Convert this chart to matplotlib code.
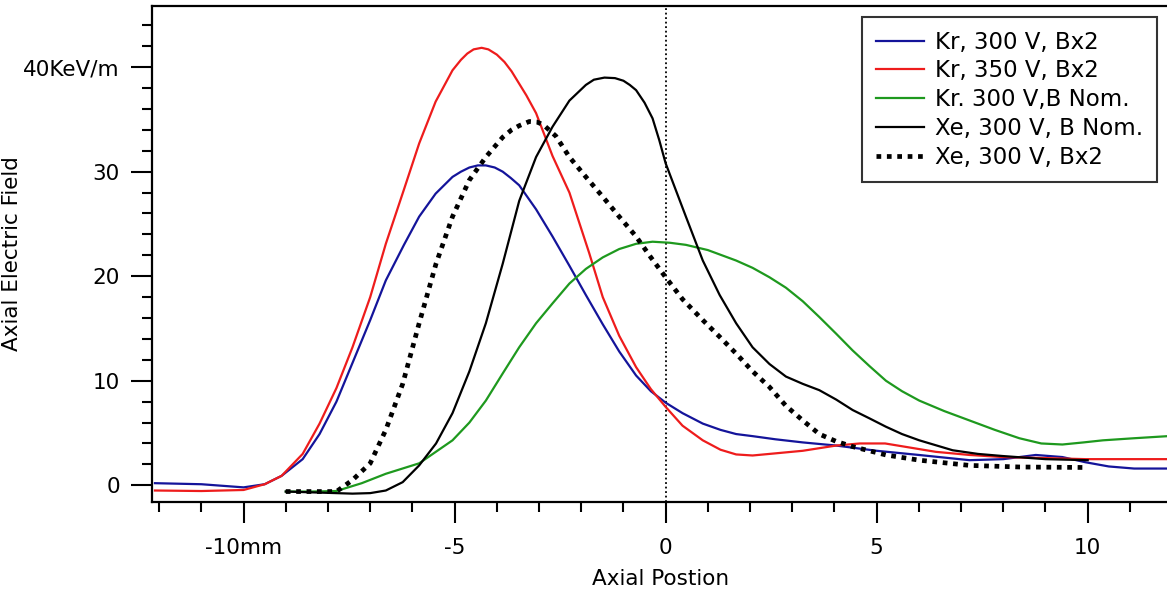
import matplotlib
matplotlib.use("Agg")
import matplotlib.pyplot as plt
from matplotlib.ticker import MultipleLocator, FixedLocator, FuncFormatter

# Kr, 300 V, Bx2
kr300_x = [-12.1, -11, -10, -9.5, -9.1, -8.6, -8.2, -7.8, -7.42, -7.0, -6.63, -6.2, -5.84, -5.45,
           -5.05, -4.85, -4.65, -4.45, -4.26, -4.05, -3.86, -3.67, -3.47, -3.07, -2.68, -2.28,
           -1.89, -1.49, -1.1, -0.7, -0.35, 0, 0.4, 0.88, 1.3, 1.67, 2.06, 2.6, 3.25, 4.04,
           5.0, 6.0, 7.2, 8.0, 8.77, 9.4, 9.95, 10.5, 11.1, 11.9]
kr300_y = [0.2, 0.1, -0.2, 0.1, 0.9, 2.5, 4.9, 8.0, 11.7, 15.8, 19.6, 23.0, 25.7, 27.9,
           29.5, 30.0, 30.4, 30.6, 30.6, 30.4, 30.0, 29.4, 28.7, 26.4, 23.8, 21.0,
           18.2, 15.4, 12.8, 10.5, 9.0, 7.9, 6.9, 5.9, 5.3, 4.9, 4.7, 4.4, 4.1, 3.8,
           3.3, 2.9, 2.4, 2.5, 2.9, 2.7, 2.2, 1.8, 1.6, 1.6]

# Kr, 350 V, Bx2
kr350_x = [-12.1, -11, -10, -9.5, -9.1, -8.6, -8.2, -7.8, -7.42, -7.0, -6.63, -6.2, -5.84, -5.45,
           -5.05, -4.85, -4.7, -4.55, -4.36, -4.2, -4.0, -3.82, -3.65, -3.3, -3.07, -2.68,
           -2.28, -1.81, -1.49, -1.1, -0.7, -0.35, 0, 0.4, 0.88, 1.3, 1.67, 2.06, 2.46, 3.25,
           4.04, 4.6, 5.2, 5.8, 6.4, 7.2, 7.98, 9.0, 9.95, 11.0, 11.9]
kr350_y = [-0.5, -0.55, -0.45, 0.1, 0.9, 3.0, 5.9, 9.3, 13.2, 18.0, 23.1, 28.3, 32.7, 36.7,
           39.7, 40.7, 41.3, 41.7, 41.85, 41.7, 41.2, 40.5, 39.6, 37.3, 35.6, 31.5,
           28.0, 22.2, 18.0, 14.3, 11.3, 9.2, 7.5, 5.7, 4.3, 3.4, 2.95, 2.85, 3.0, 3.3,
           3.8, 4.0, 4.0, 3.6, 3.2, 2.9, 2.7, 2.6, 2.5, 2.5, 2.5]

# Kr. 300 V, B Nom.
krnom_x = [-9, -8.4, -7.8, -7.2, -6.63, -5.84, -5.05, -4.65, -4.26, -3.86, -3.47, -3.07, -2.68,
           -2.28, -1.89, -1.49, -1.1, -0.7, -0.31, 0.1, 0.48, 1.0, 1.67, 2.06, 2.46, 2.85,
           3.25, 3.64, 4.04, 4.43, 4.83, 5.22, 5.6, 6.01, 6.6, 7.2, 7.8, 8.38, 8.9, 9.4,
           9.9, 10.36, 11.1, 11.9]
krnom_y = [-0.6, -0.6, -0.55, 0.2, 1.1, 2.1, 4.3, 6.0, 8.1, 10.7, 13.2, 15.5, 17.4,
           19.3, 20.7, 21.8, 22.6, 23.1, 23.3, 23.2, 23.0, 22.5, 21.5, 20.8, 19.9, 18.9,
           17.6, 16.1, 14.5, 12.9, 11.4, 10.0, 9.0, 8.1, 7.1, 6.2, 5.3, 4.5, 4.0, 3.9,
           4.1, 4.3, 4.5, 4.7]

# Xe, 300 V, B Nom.
xenom_x = [-9, -8.2, -7.42, -7.0, -6.63, -6.23, -5.84, -5.44, -5.05, -4.65, -4.26, -3.86, -3.47,
           -3.07, -2.68, -2.28, -1.89, -1.7, -1.45, -1.2, -1.0, -0.85, -0.7, -0.5, -0.31,
           -0.15, 0, 0.48, 0.88, 1.28, 1.67, 2.06, 2.46, 2.85, 3.25, 3.64, 4.04, 4.43, 4.83,
           5.22, 5.6, 6.01, 6.8, 7.4, 7.98, 9.0, 10.0]
xenom_y = [-0.6, -0.7, -0.8, -0.75, -0.5, 0.3, 1.9, 4.0, 6.9, 10.9, 15.5, 21.2, 27.2,
           31.4, 34.3, 36.8, 38.3, 38.8, 39.0, 38.95, 38.7, 38.3, 37.8, 36.6, 35.1,
           33.0, 30.8, 25.7, 21.5, 18.2, 15.5, 13.2, 11.6, 10.4, 9.7, 9.1, 8.2, 7.2, 6.4,
           5.6, 4.9, 4.3, 3.35, 3.0, 2.8, 2.5, 2.4]

# Xe, 300 V, Bx2
xebx2_x = [-9, -8.2, -7.8, -7.42, -7.0, -6.63, -6.23, -5.84, -5.44, -5.05, -4.65, -4.26, -3.86,
           -3.65, -3.47, -3.23, -3.05, -2.9, -2.6, -2.28, -1.89, -1.49, -1.1, -0.7, -0.35, 0,
           0.4, 0.88, 1.28, 1.67, 2.06, 2.46, 2.85, 3.25, 3.64, 4.04, 4.43, 5.22, 6.01, 7.2,
           8.38, 10.0]
xebx2_y = [-0.6, -0.6, -0.6, 0.5, 2.1, 5.3, 9.7, 15.5, 21.2, 25.7, 29.2, 31.4, 33.3,
           34.0, 34.4, 34.8, 34.75, 34.5, 33.4, 31.4, 29.5, 27.6, 25.7, 23.8, 21.8, 19.9,
           17.8, 15.8, 14.2, 12.6, 10.9, 9.4, 7.6, 6.2, 4.9, 4.2, 3.7, 2.9, 2.4, 1.9,
           1.75, 1.7]

labels = ["Kr, 300 V, Bx2", "Kr, 350 V, Bx2", "Kr. 300 V,B Nom.",
          "Xe, 300 V, B Nom.", "Xe, 300 V, Bx2"]

plt.rcParams["font.family"] = "DejaVu Sans"
fs = 15.5

fig = plt.figure(figsize=(11.67, 5.95), dpi=100)
ax = fig.add_axes([152 / 1167, 93 / 595, 1018 / 1167, 496 / 595])

ax.axvline(0, color="black", lw=1.3, linestyle=(0, (1, 1.5)))
ax.plot(kr300_x, kr300_y, color="#14149a", lw=1.6, label=labels[0])
ax.plot(kr350_x, kr350_y, color="#ee1c1c", lw=1.6, label=labels[1])
ax.plot(krnom_x, krnom_y, color="#1e991e", lw=1.6, label=labels[2])
ax.plot(xenom_x, xenom_y, color="black", lw=1.6, label=labels[3])
ax.plot(xebx2_x, xebx2_y, color="black", lw=3.4, linestyle=(0, (1, 1.2)),
        dash_capstyle="butt", label=labels[4])

ax.set_xlim(-12.17, 11.95)
ax.set_ylim(-1.6, 45.85)

ax.xaxis.set_major_locator(FixedLocator([-10, -5, 0, 5, 10]))
ax.xaxis.set_minor_locator(MultipleLocator(1))
ax.yaxis.set_major_locator(FixedLocator([0, 10, 20, 30, 40]))
ax.yaxis.set_minor_locator(MultipleLocator(2))
ax.xaxis.set_major_formatter(FuncFormatter(lambda v, p: "-10mm" if v == -10 else f"{v:g}"))
ax.yaxis.set_major_formatter(FuncFormatter(lambda v, p: "40KeV/m" if v == 40 else f"{v:g}"))

ax.tick_params(which="major", direction="out", length=15, width=1.5, labelsize=fs, pad=11)
ax.tick_params(which="minor", direction="out", length=7.5, width=1.5)
ax.tick_params(axis="y", which="major", pad=8)

for side in ["left", "bottom", "top"]:
    ax.spines[side].set_linewidth(1.6)
ax.spines["right"].set_visible(False)

ax.set_xlabel("Axial Postion", fontsize=fs, labelpad=8)
ax.set_ylabel("Axial Electric Field", fontsize=fs)
ax.yaxis.set_label_coords(-0.128, 0.5)

leg = ax.legend(loc="upper right", bbox_to_anchor=(1157 / 1167, 1 - 17 / 595),
                bbox_transform=fig.transFigure, fontsize=16.5, frameon=True, fancybox=False,
                handlelength=2.1, handletextpad=0.5, labelspacing=0.25, borderpad=0.6,
                borderaxespad=0)
leg.get_frame().set_edgecolor("black")
leg.get_frame().set_linewidth(1.5)

fig.savefig("out.png", dpi=100)
